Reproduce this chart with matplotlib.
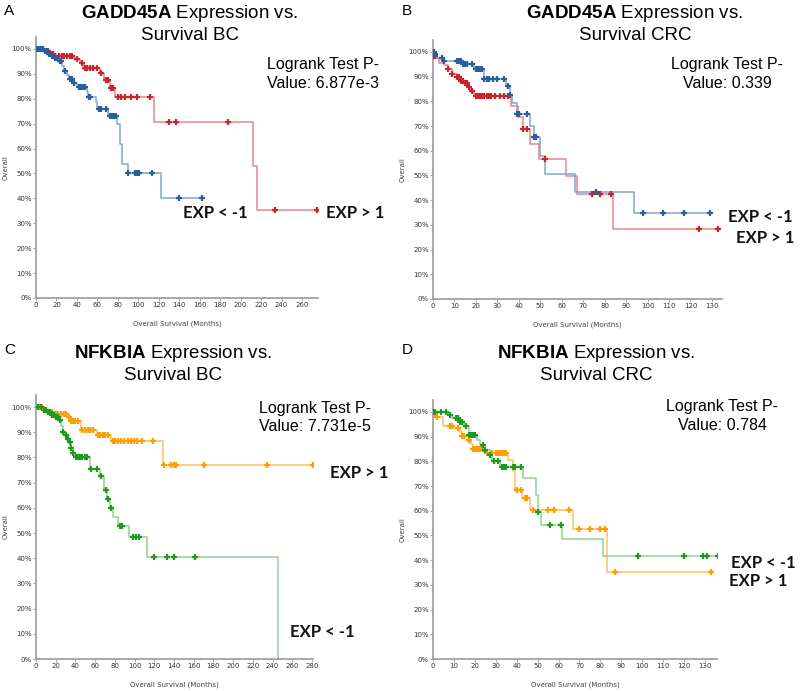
import matplotlib
matplotlib.use('Agg')
import matplotlib.pyplot as plt
import numpy as np

plt.rcParams['mathtext.fontset'] = 'custom'
plt.rcParams['mathtext.bf'] = 'Liberation Sans:bold'
plt.rcParams['mathtext.rm'] = 'Liberation Sans'

# ---- data (survival %, months) ----
# A: GADD45A, BC
a_hi_t = [8, 14, 20, 37, 43, 47, 63, 66, 72, 77, 115, 212, 216]
a_hi_s = [99, 98, 97, 95.9, 94.3, 92.4, 90.4, 87.6, 84.5, 80.9, 70.6, 53.2, 35.4]
a_hi_c = [2, 4, 6, 10, 12, 15, 17, 22, 25, 27, 30, 33, 35, 40, 45, 48, 50, 53, 56, 60,
          64, 68, 70, 73, 75, 80, 83, 87, 93, 99, 111, 130, 137, 188, 234, 275]
a_lo_t = [8, 12, 15, 18, 22, 25, 27, 30, 32, 36, 40, 50, 51, 59, 60, 70, 79, 82, 84, 90, 122]
a_lo_s = [99, 98, 97, 96.2, 95, 93.2, 91.3, 89.4, 87.8, 86.5, 84.9, 82.9, 80.9, 78.5, 75.8,
          73.2, 69.7, 62, 54, 50, 40]
a_lo_c = [1, 3, 5, 7, 9, 11, 13, 14, 16, 17, 19, 20, 21, 23, 24, 28, 33, 35, 37, 42, 44,
          46, 48, 52, 53, 62, 64, 68, 72, 74, 76, 78, 90, 97, 99, 101, 113, 140, 162]

# B: GADD45A, CRC
b_hi_t = [0.3, 2, 3, 5, 7, 9, 11, 13, 15, 17, 17.5, 19, 36.5, 39.5, 42, 45.3, 49.6, 62, 67, 83.7]
b_hi_s = [98.5, 97.5, 95.5, 94.5, 93.2, 91.2, 89.7, 88.2, 87.2, 85.8, 84, 82.2, 78, 73.5,
          68.9, 62.8, 56.6, 49.6, 42.6, 28.3]
b_hi_c = [0.5, 1, 7, 9, 11, 12, 13, 14, 15, 16, 17, 18, 20, 21, 22, 23, 24, 25, 26, 27,
          29, 31, 33, 35, 42, 44, 52, 74, 78, 83, 124, 133]
b_lo_t = [0.6, 1.2, 5, 14, 19, 24, 34, 36, 37, 39, 45, 47, 50, 52, 66, 93.5]
b_lo_s = [99, 97.6, 96.2, 94.9, 93.1, 89, 86, 82.7, 79.3, 74.8, 69.9, 65.4, 57.7, 50.5, 43.4, 34.8]
b_lo_c = [0.5, 1, 4, 5, 11, 12, 13, 14, 15, 16, 18, 20, 21, 22, 23, 24, 25, 26, 28, 30,
          33, 35, 36, 39, 40, 44, 47, 48, 76, 98, 107, 117, 129]

# C: NFKBIA, BC
c_hi_t = [8, 12, 18, 31, 35, 46, 62, 76, 129]
c_hi_s = [99, 98, 97.3, 96.2, 94.6, 90.9, 89, 86.6, 76.9]
c_hi_c = [4, 6, 8, 10, 12, 14, 16, 18, 20, 22, 25, 28, 30, 33, 35, 38, 40, 43, 47, 50, 53,
          55, 58, 63, 65, 68, 70, 73, 78, 80, 83, 86, 89, 93, 96, 99, 102, 108, 119, 130,
          137, 140, 142, 170, 234, 281]
c_lo_t = [8, 12, 15, 20, 23, 25, 27, 29, 31, 33, 36, 38, 40, 55, 64.6, 69, 72, 75, 78, 83.5,
          94, 113, 245]
c_lo_s = [99, 98, 97, 96, 95, 92.6, 90.3, 88.8, 87.4, 86.1, 83.7, 81.7, 80.2, 75.3, 72.5,
          67, 63.6, 59.9, 56.3, 52.6, 48.3, 40.3, 0]
c_lo_c = [2, 5, 8, 10, 12, 14, 16, 18, 20, 22, 24, 27, 30, 32, 34, 36, 38, 41, 43, 45, 47,
          50, 52, 56, 62, 66, 71, 73, 76, 85, 87, 98, 101, 104, 120, 133, 140, 161]

# D: NFKBIA, CRC
d_lo_t = [7, 9, 13, 15, 17, 21, 22.6, 25, 27, 28, 32, 43, 49, 50, 51.4, 61.4, 81]
d_lo_s = [98.8, 97.6, 96, 94.3, 90.8, 88.8, 86.6, 84.5, 82.5, 80.1, 77.5, 73.1, 66.4,
          59.4, 54.2, 48.4, 41.5]
d_lo_c = [0, 1, 4, 6, 8, 11, 12, 13, 14, 16, 17, 18, 19, 20, 24, 25, 27, 29, 31, 33, 34,
          35, 38, 39, 42, 50, 56, 61, 98, 120, 129, 131, 136]
d_hi_t = [1, 2, 5, 10, 13, 14, 17, 18, 19, 25, 36, 38, 39, 39.3, 42.3, 46.5, 67, 83]
d_hi_s = [99, 98, 94.3, 93.5, 91.9, 90.3, 88.7, 87, 84.9, 83.3, 80.6, 76, 71.5, 68.2, 65,
          60.3, 52.8, 35.1]
d_hi_c = [1, 2, 8, 9, 12, 14, 15, 17, 19, 20, 21, 22, 23, 24, 26, 28, 30, 31, 32, 33, 34,
          35, 40, 42, 44, 45, 48, 55, 58, 65, 70, 75, 80, 82, 87, 133]

W, H = 800, 691
fig = plt.figure(figsize=(W / 100, H / 100), dpi=100)

RED = ('#c9252b', '#ea8589')
BLUE = ('#2a5f9e', '#7ea6d6')
ORANGE = ('#ff9e00', '#ffc060')
GREEN = ('#1f9a1f', '#8ad68a')


def px_axes(left, right, top, bottom):
    ax = fig.add_axes([left / W, 1 - bottom / H, (right - left) / W, (bottom - top) / H])
    ax._px_width = right - left
    return ax


def km(ax, t, s, c, cols, tend):
    t = np.asarray(t, float)
    s = np.asarray(s, float)
    xs = np.r_[0, t, tend]
    ys = np.r_[100, s, s[-1]]
    ax.step(xs, ys, where='post', color=cols[1], lw=1.1, zorder=2)
    c = np.asarray(c, float)
    idx = np.searchsorted(t, c, side='right')
    cy = np.where(idx == 0, 100, s[np.maximum(idx - 1, 0)])
    ax.plot(c, cy, ls='none', marker='+', ms=4.5, mew=1.6, color=cols[0], zorder=3)


def style(ax, xmax, xstep):
    ax.set_xlim(0, xmax)
    ax.set_ylim(0, 104.8)
    ax.set_xticks(np.arange(0, xmax, xstep))
    ax.set_yticks(np.arange(0, 101, 10))
    ax.set_yticklabels([f'{v}%' for v in range(0, 101, 10)])
    for sp in ['top', 'right']:
        ax.spines[sp].set_visible(False)
    for sp in ['left', 'bottom']:
        ax.spines[sp].set_color('#9a9a9a')
        ax.spines[sp].set_linewidth(1.2)
    ax.tick_params(labelsize=5, length=2, width=0.6, colors='#9a9a9a', labelcolor='#333333', pad=1)
    ax.set_xlabel('Overall Survival (Months)', fontsize=5, color='#444444', labelpad=9)
    ax.set_ylabel('Overall', fontsize=5, color='#444444')
    ax.yaxis.set_label_coords(-27 / ax._px_width, 0.5)


def txt(x, y, s, **kw):
    fig.text(x / W, 1 - y / H, s, va='center', **kw)


def panel(letter, lx, gene, cancer, cx, ty, pval, px, py):
    txt(lx, ty - 2, letter, fontsize=11, family='Liberation Sans', ha='left')
    txt(cx, ty + 1, r'$\mathbf{' + gene + '}$' + ' Expression vs.', fontsize=13.5,
        family='Liberation Sans', ha='center')
    txt(cx, ty + 23, 'Survival ' + cancer, fontsize=13.5, family='Liberation Sans', ha='center')
    txt(px, py + 1, 'Logrank Test P-', fontsize=11.5, family='Liberation Sans', ha='center')
    txt(px, py + 20, 'Value: ' + pval, fontsize=11.5, family='Liberation Sans', ha='center')


def exp_label(x, y, s):
    txt(x, y, s, fontsize=12, family='Lato', weight='bold', ha='left', color='#111111')


# A
axA = px_axes(36, 318, 37, 298)
km(axA, a_hi_t, a_hi_s, a_hi_c, RED, 275)
km(axA, a_lo_t, a_lo_s, a_lo_c, BLUE, 162)
style(axA, 275.6, 20)
panel('A', 4, 'GADD45A', 'BC', 190, 13, '6.877e-3', 323, 63)
exp_label(183, 213, 'EXP < -1')
exp_label(326, 213, 'EXP > 1')

# B
axB = px_axes(433, 722, 40, 299)
km(axB, b_hi_t, b_hi_s, b_hi_c, RED, 133)
km(axB, b_lo_t, b_lo_s, b_lo_c, BLUE, 129)
style(axB, 134.7, 10)
panel('B', 402, 'GADD45A', 'CRC', 635, 13, '0.339', 727, 63)
exp_label(728, 217, 'EXP < -1')
exp_label(736, 238, 'EXP > 1')

# C
axC = px_axes(36, 313, 395, 659)
km(axC, c_hi_t, c_hi_s, c_hi_c, ORANGE, 281)
km(axC, c_lo_t, c_lo_s, c_lo_c, GREEN, 245)
style(axC, 281, 20)
panel('C', 4, 'NFKBIA', 'BC', 173, 352, '7.731e-5', 315, 407)
exp_label(330, 473, 'EXP > 1')
exp_label(290, 632, 'EXP < -1')

# D
axD = px_axes(433, 717, 400, 659)
km(axD, d_hi_t, d_hi_s, d_hi_c, ORANGE, 133)
km(axD, d_lo_t, d_lo_s, d_lo_c, GREEN, 136)
style(axD, 135.7, 10)
panel('D', 402, 'NFKBIA', 'CRC', 596, 352, '0.784', 722, 405)
exp_label(731, 563, 'EXP < -1')
exp_label(729, 581, 'EXP > 1')

fig.savefig('out.png', dpi=100)
